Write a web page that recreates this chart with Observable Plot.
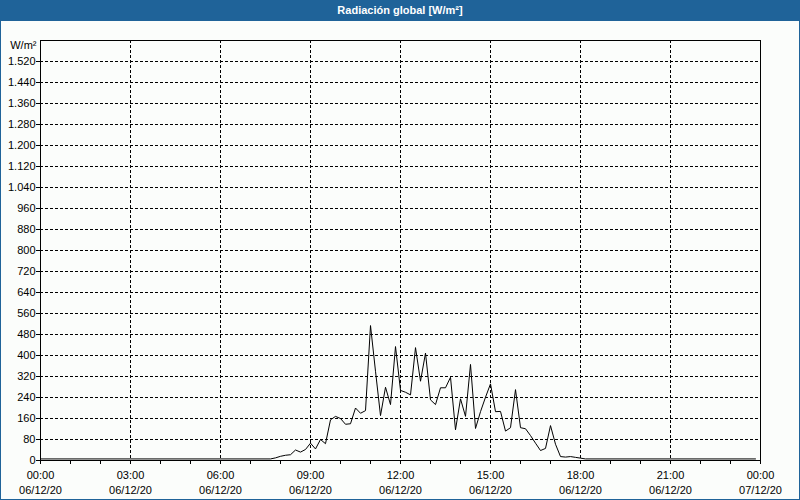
<!DOCTYPE html>
<html>
<head>
<meta charset="utf-8">
<script src="https://cdn.jsdelivr.net/npm/d3@7"></script>
<script src="https://cdn.jsdelivr.net/npm/@observablehq/plot@0.6"></script>
<style>
  html, body { margin: 0; padding: 0; background: #fbfdfb; }
  #wrap { width: 800px; height: 500px; box-sizing: border-box; border: 1px solid #1f6399; background: #fbfdfb; overflow: hidden; }
  #title { height: 20px; line-height: 19px; background: #1f6399; color: #fff; text-align: center;
           font-family: "Liberation Sans", Arial, sans-serif; font-weight: bold; font-size: 11px; }
  svg { display: block; }
</style>
</head>
<body>
<div id="wrap">
  <div id="title">Radiación global [W/m²]</div>
  <div id="chart"></div>
</div>
<script>
// Time of reading (06/12/20, local) and global radiation in W/m²
const times = ["00:00","07:40","07:50","08:00","08:10","08:20","08:30","08:40","08:50","09:00",
  "09:10","09:20","09:30","09:40","09:50","10:00","10:10","10:20","10:30","10:40",
  "10:50","11:00","11:10","11:20","11:30","11:40","11:50","12:00","12:10","12:20",
  "12:30","12:40","12:50","13:00","13:10","13:20","13:30","13:40","13:50","14:00",
  "14:10","14:20","14:30","14:40","14:50","15:00","15:10","15:20","15:30","15:40",
  "15:50","16:00","16:10","16:20","16:30","16:40","16:50","17:00","17:10","17:20",
  "17:30","17:40","17:50","18:00","18:10","23:50"];
const radiation = [6,6,10,16,20,22,40,32,42,66,
  44,80,64,155,168,160,138,140,200,180,
  190,514,340,171,279,213,434,267,260,250,
  430,302,409,231,213,277,277,317,117,235,
  168,366,122,186,241,292,186,187,112,125,
  270,125,121,95,66,38,46,133,62,15,
  13,15,12,9,6,6];
const yTicks = [0,80,160,240,320,400,480,560,640,720,800,880,960,1040,1120,1200,1280,1360,1440,1520];
const xTickHours = [0,3,6,9,12,15,18,21,24];
const yUnit = "W/m²";

const day = (h, m) => new Date(Date.UTC(2020, 11, 6, h, m));
const data = times.map((t, i) => {
  const [h, m] = t.split(":").map(Number);
  return {time: day(h, m), value: radiation[i]};
});
const xTicks = xTickHours.map(h => day(h, 0));
const hourTicks = d3.utcHours(day(0, 0), day(24, 1));
const es = d3.formatLocale({decimal: ",", thousands: ".", grouping: [3], currency: ["", "€"]});
const fmtY = es.format(",d");
const fmtTime = d3.utcFormat("%H:%M");
const fmtDate = d3.utcFormat("%d/%m/%y");

const chart = Plot.plot({
  width: 798,
  height: 478,
  marginLeft: 39,
  marginRight: 39,
  marginTop: 19,
  marginBottom: 39,
  style: {fontFamily: "Liberation Sans, Arial, sans-serif", fontSize: "11px", background: "transparent", color: "#000", overflow: "visible"},
  x: {type: "utc", domain: [day(0, 0), day(24, 0)]},
  y: {domain: [0, 1600]},
  marks: [
    Plot.gridY(yTicks, {stroke: "#000", strokeOpacity: 1, strokeDasharray: "3,2"}),
    Plot.gridX(xTicks, {stroke: "#000", strokeOpacity: 1, strokeDasharray: "3,2"}),
    Plot.axisY({ticks: yTicks, tickSize: 4, tickPadding: 1, tickFormat: fmtY, label: null}),
    Plot.axisX({ticks: hourTicks, tickSize: 4, tickFormat: () => "", label: null}),
    Plot.axisX({ticks: xTicks, tickSize: 4, tickPadding: 7, tickFormat: fmtTime, label: null}),
    Plot.axisX({ticks: xTicks, tickSize: 0, tickPadding: 26, tickFormat: fmtDate, label: null}),
    Plot.text([yUnit], {frameAnchor: "top-left", textAnchor: "end", lineAnchor: "middle", dx: -4, dy: 5}),
    Plot.line(data, {x: "time", y: "value", stroke: "#000", strokeWidth: 1}),
    Plot.frame({stroke: "#000", strokeWidth: 1})
  ]
});
document.getElementById("chart").appendChild(chart);
</script>
</body>
</html>
